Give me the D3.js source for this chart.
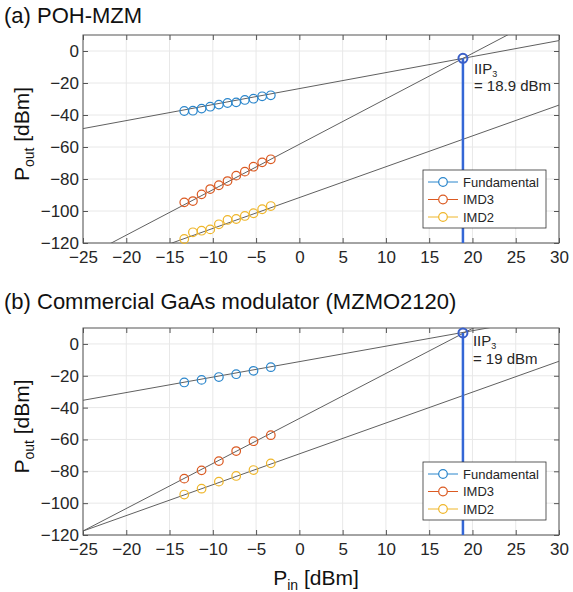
<!DOCTYPE html>
<html>
<head>
<meta charset="utf-8">
<script src="https://cdn.jsdelivr.net/npm/d3@7"></script>
<style>
  body { margin: 0; background: #fff; }
  svg { font-family: Arial, "Liberation Sans", sans-serif; }
</style>
</head>
<body>
<div id="chart"></div>
<script>
// ---- data ----
const xTicks = [-25, -20, -15, -10, -5, 0, 5, 10, 15, 20, 25, 30];
const yTicks = [-120, -100, -80, -60, -40, -20, 0];

// (a) POH-MZM
const pinA = [-13.3, -12.3, -11.3, -10.3, -9.3, -8.3, -7.3, -6.3, -5.3, -4.3, -3.3];
const fundA = [-37.5, -37.3, -36.0, -34.8, -33.5, -32.5, -32.1, -30.6, -29.8, -28.3, -27.7];
const imd3A = [-94.6, -93.8, -89.6, -86.3, -83.9, -81.3, -77.9, -75.4, -72.3, -69.6, -67.7];
const imd2A = [-117.5, -113.3, -112.3, -111.5, -108.3, -105.6, -105.0, -103.1, -101.4, -98.9, -96.9];
const fitFundA = [[-25, -48.5], [30, 6.5]];
const fitImd3A = [[-25, -129.3], [30, 26.9]];
const fitImd2A = [[-25, -139.8], [30, -33.8]];
const iip3A = [18.9, -4.6];

// (b) Commercial GaAs modulator
const pinB = [-13.3, -11.3, -9.3, -7.3, -5.3, -3.3];
const fundB = [-24.2, -22.6, -20.8, -19.0, -16.9, -14.6];
const imd3B = [-84.6, -79.4, -73.6, -67.3, -61.1, -57.3];
const imd2B = [-94.6, -90.9, -86.5, -82.9, -79.2, -75.0];
const fitFundB = [[-25, -35.4], [30, 18.0]];
const fitImd3B = [[-25, -117.5], [30, 38.0]];
const fitImd2B = [[-25, -117.5], [30, -10.9]];
const iip3B = [18.9, 6.9];

const seriesNames = ["Fundamental", "IMD3", "IMD2"];
const colors = ["#2a86cc", "#db5a22", "#efb62a"];

const width = 573, height = 592;
const left = 83, right = 559;

const svg = d3.select("#chart").append("svg")
    .attr("width", width)
    .attr("height", height);

const x = d3.scaleLinear().domain([-25, 30]).range([left, right]);

function drawPanel(id, top, bottom, title, titleY, pin, series, fits, iip3, iipText, note) {
    const y = d3.scaleLinear().domain([-120, 10]).range([bottom, top]);
    const g = svg.append("g");

    g.append("clipPath").attr("id", "clip" + id)
        .append("rect")
        .attr("x", left).attr("y", top)
        .attr("width", right - left).attr("height", bottom - top);

    // grid
    g.selectAll(".gx").data(xTicks).enter().append("line")
        .attr("x1", d => x(d)).attr("x2", d => x(d))
        .attr("y1", top).attr("y2", bottom)
        .attr("stroke", "#e8e8e8");
    g.selectAll(".gy").data(yTicks).enter().append("line")
        .attr("x1", left).attr("x2", right)
        .attr("y1", d => y(d)).attr("y2", d => y(d))
        .attr("stroke", "#e8e8e8");

    // axes
    const ax = g.append("g")
        .attr("transform", "translate(0," + bottom + ")")
        .call(d3.axisBottom(x).tickValues(xTicks).tickSize(-5).tickPadding(8));
    const ay = g.append("g")
        .attr("transform", "translate(" + left + ",0)")
        .call(d3.axisLeft(y).tickValues(yTicks).tickSize(-5).tickPadding(4));
    g.append("g")
        .attr("transform", "translate(" + right + ",0)")
        .call(d3.axisRight(y).tickValues(yTicks).tickSize(-5).tickFormat(""))
        .select(".domain").remove();
    g.append("g")
        .attr("transform", "translate(0," + top + ")")
        .call(d3.axisTop(x).tickValues(xTicks).tickSize(-5).tickFormat(""))
        .select(".domain").remove();
    [ax, ay].forEach(a => {
        a.selectAll("text").attr("font-size", 17).attr("fill", "#262626");
        a.select(".domain").remove();
    });
    g.selectAll(".tick line").attr("stroke", "#555");
    g.append("rect")
        .attr("x", left).attr("y", top)
        .attr("width", right - left).attr("height", bottom - top)
        .attr("fill", "none").attr("stroke", "#555").attr("stroke-width", 1);

    // fitted lines
    const line = d3.line().x(d => x(d[0])).y(d => y(d[1]));
    const lines = g.append("g").attr("clip-path", "url(#clip" + id + ")");
    fits.forEach(f => {
        lines.append("path").attr("d", line(f))
            .attr("fill", "none").attr("stroke", "#606060").attr("stroke-width", 1);
    });

    // IIP3 marker and drop line
    lines.append("line")
        .attr("x1", x(iip3[0])).attr("x2", x(iip3[0]))
        .attr("y1", y(iip3[1])).attr("y2", bottom)
        .attr("stroke", "#3467d6").attr("stroke-width", 2.5);
    g.append("circle")
        .attr("cx", x(iip3[0])).attr("cy", y(iip3[1])).attr("r", 4.5)
        .attr("fill", "none").attr("stroke", "#3a5fc8").attr("stroke-width", 2);

    // measured points
    series.forEach((vals, i) => {
        g.append("g").selectAll("circle")
            .data(vals.map((v, k) => [pin[k], v]))
            .enter().append("circle")
            .attr("cx", d => x(d[0])).attr("cy", d => y(d[1])).attr("r", 4.3)
            .attr("fill", "none").attr("stroke", colors[i]).attr("stroke-width", 1.2);
    });

    // annotation
    const t = g.append("text")
        .attr("x", x(iip3[0]) + note.dx).attr("y", y(iip3[1]) + note.dy1)
        .attr("font-size", 15).attr("fill", "#262626");
    t.append("tspan").text("IIP");
    t.append("tspan").attr("font-size", 9).attr("dy", 2.5).text("3");
    g.append("text")
        .attr("x", x(iip3[0]) + note.dx).attr("y", y(iip3[1]) + note.dy2)
        .attr("font-size", 15).attr("fill", "#262626")
        .text(iipText);

    // legend
    const lx = 423, ly = bottom - 73, lw = 123, lh = 58;
    const lg = g.append("g");
    lg.append("rect").attr("x", lx).attr("y", ly).attr("width", lw).attr("height", lh)
        .attr("fill", "#fff").attr("stroke", "#333").attr("stroke-width", 0.8);
    seriesNames.forEach((name, i) => {
        const yy = ly + 12 + i * 17.5;
        lg.append("line").attr("x1", lx + 5).attr("x2", lx + 35)
            .attr("y1", yy).attr("y2", yy).attr("stroke", colors[i]).attr("stroke-width", 1);
        lg.append("circle").attr("cx", lx + 20).attr("cy", yy).attr("r", 4.3)
            .attr("fill", "#fff").attr("stroke", colors[i]).attr("stroke-width", 1.2);
        lg.append("text").attr("x", lx + 40).attr("y", yy + 4.5)
            .attr("font-size", 13).attr("fill", "#262626").text(name);
    });

    // title
    svg.append("text").attr("x", 4).attr("y", titleY)
        .attr("font-size", 22).attr("fill", "#111").text(title);

    // y label
    const yl = svg.append("text")
        .attr("transform", "translate(29," + ((top + bottom) / 2 - 5) + ") rotate(-90)")
        .attr("text-anchor", "middle").attr("font-size", 21).attr("fill", "#111");
    yl.append("tspan").text("P");
    yl.append("tspan").attr("font-size", 14).attr("dy", 5).text("out");
    yl.append("tspan").attr("dy", -5).text(" [dBm]");
}

drawPanel("A", 35, 243, "(a) POH-MZM", 23, pinA, [fundA, imd3A, imd2A],
    [fitFundA, fitImd3A, fitImd2A], iip3A, "= 18.9 dBm", { dx: 11, dy1: 16, dy2: 33 });
drawPanel("B", 328, 535, "(b) Commercial GaAs modulator (MZMO2120)", 309, pinB, [fundB, imd3B, imd2B],
    [fitFundB, fitImd3B, fitImd2B], iip3B, "= 19 dBm", { dx: 10, dy1: 13.5, dy2: 31 });

// x label
const xl = svg.append("text")
    .attr("x", 316).attr("y", 585)
    .attr("text-anchor", "middle").attr("font-size", 21).attr("fill", "#111");
xl.append("tspan").text("P");
xl.append("tspan").attr("font-size", 14).attr("dy", 5).text("in");
xl.append("tspan").attr("dy", -5).text(" [dBm]");
</script>
</body>
</html>
